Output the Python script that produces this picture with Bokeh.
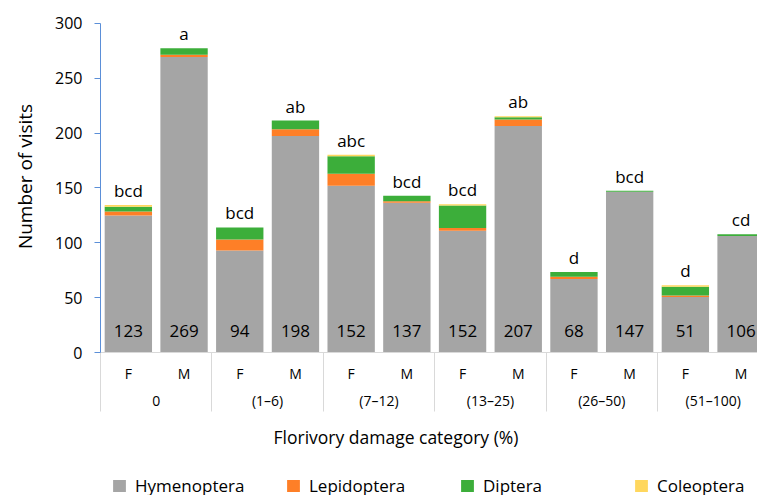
from bokeh.plotting import figure
from bokeh.layouts import column
from bokeh.models import (ColumnDataSource, FixedTicker, LinearAxis, Legend,
                          LegendItem, Title, Range1d)
from bokeh.core.properties import value
from bokeh.embed import file_html
from bokeh.resources import INLINE

# ---- data -------------------------------------------------------------
groups = ["0", "(1–6)", "(7–12)", "(13–25)", "(26–50)", "(51–100)"]
sexes = ["F", "M"]
species = ["Hymenoptera", "Lepidoptera", "Diptera", "Coleoptera"]

hymenoptera = [125, 269.5, 93, 197.5, 152, 136.5, 111, 206.5, 67, 146.5, 50.5, 106.3]
lepidoptera = [3.5, 2, 10, 6, 11, 1.5, 2.5, 6, 2, 0, 1.5, 0]
diptera = [4.5, 6, 11, 8, 16, 5, 20.5, 2, 4.5, 1, 8, 1.5]
coleoptera = [1.5, 0, 0, 0, 1.2, 0, 1.2, 1, 0, 0, 1.3, 0]

bar_counts = [123, 269, 94, 198, 152, 137, 152, 207, 68, 147, 51, 106]
letters = ["bcd", "a", "bcd", "ab", "abc", "bcd", "bcd", "ab", "d", "bcd", "d", "cd"]

colors = ["#a5a5a5", "#fe7f27", "#3cae3a", "#ffd75e"]
FONT = "Open Sans"

# ---- derived ----------------------------------------------------------
n = len(hymenoptera)
xs = list(range(n))
sex_labels = [sexes[i % 2] for i in xs]
totals = [h + l + d + c for h, l, d, c in zip(hymenoptera, lepidoptera, diptera, coleoptera)]
group_pos = [2 * g + 0.5 for g in range(len(groups))]
sep_pos = [2 * g - 0.5 for g in range(len(groups) + 1)]

source = ColumnDataSource(dict(
    x=xs, Hymenoptera=hymenoptera, Lepidoptera=lepidoptera, Diptera=diptera,
    Coleoptera=coleoptera, total=totals, zero=[0] * n,
    count=[str(v) for v in bar_counts], letter=letters,
))

p = figure(width=757, height=459, x_range=Range1d(-0.5, 11.295),
           y_range=Range1d(0, 320.95), output_backend="svg",
           toolbar_location=None, x_axis_location=None,
           min_border_left=100, min_border_right=0, min_border_top=0,
           min_border_bottom=106)
p.outline_line_color = None
p.grid.visible = False

renderers = p.vbar_stack(species, x="x", width=0.85, color=colors,
                         line_color=None, source=source)

# value labels inside bars
p.text(x="x", y="zero", text="count", source=source, text_align="center",
       text_baseline="middle", y_offset=-22, text_font=value(FONT),
       text_font_size="17px", text_color="black")
# significance letters above bars
p.text(x="x", y="total", text="letter", source=source, text_align="center",
       text_baseline="bottom", y_offset=-3, text_font=value(FONT),
       text_font_size="17px", text_color="black")

# y axis
yax = p.yaxis[0]
yax.ticker = FixedTicker(ticks=[0, 50, 100, 150, 200, 250, 300])
yax.bounds = (0, 300)
yax.axis_line_color = "#5b8fd8"
yax.major_tick_line_color = "#5b8fd8"
yax.minor_tick_line_color = None
yax.major_tick_out = 6
yax.major_tick_in = 0
yax.major_label_standoff = 12
yax.major_label_text_font = FONT
yax.major_label_text_font_size = "16px"
yax.major_label_text_color = "black"
yax.axis_label = "Number of visits"
yax.axis_label_text_font = FONT
yax.axis_label_text_font_size = "19px"
yax.axis_label_text_font_style = "normal"
yax.axis_label_text_color = "black"
yax.axis_label_standoff = 14

# x axis: F / M row with group separators (minor ticks)
xax1 = LinearAxis(ticker=FixedTicker(ticks=xs, minor_ticks=sep_pos),
                  major_label_overrides={i: sex_labels[i] for i in xs})
xax1.axis_line_color = "#d9d9d9"
xax1.major_tick_line_color = None
xax1.major_tick_out = 0
xax1.major_tick_in = 0
xax1.minor_tick_line_color = "#d9d9d9"
xax1.minor_tick_out = 59
xax1.minor_tick_in = 0
xax1.major_label_standoff = -48
xax1.major_label_text_font = FONT
xax1.major_label_text_font_size = "14px"
xax1.major_label_text_color = "black"
p.add_layout(xax1, "below")

# x axis: damage category row
xax2 = LinearAxis(ticker=FixedTicker(ticks=group_pos, minor_ticks=[]),
                  major_label_overrides={pos: g for pos, g in zip(group_pos, groups)})
xax2.axis_line_color = None
xax2.major_tick_line_color = None
xax2.minor_tick_line_color = None
xax2.major_tick_out = 0
xax2.major_tick_in = 0
xax2.major_label_standoff = 5
xax2.major_label_text_font = FONT
xax2.major_label_text_font_size = "14px"
xax2.major_label_text_color = "black"
p.add_layout(xax2, "below")

xtitle = Title(text="Florivory damage category (%)", align="left", offset=173,
               text_font=FONT, text_font_size="17.5px", text_font_style="normal",
               text_color="black", standoff=21)
p.add_layout(xtitle, "below")

# ---- legend strip ----------------------------------------------------------
p2 = figure(width=757, height=36, x_range=Range1d(0, 1), y_range=Range1d(0, 1),
            output_backend="svg", toolbar_location=None,
            x_axis_location=None, y_axis_location=None,
            min_border_left=0, min_border_right=0, min_border_top=0,
            min_border_bottom=0)
p2.outline_line_color = None
p2.grid.visible = False
swatches = [p2.vbar(x=0.5, top=0, bottom=0, width=0, fill_color=c, line_color=None)
            for c in colors]
legend = Legend(items=[LegendItem(label=s, renderers=[r]) for s, r in zip(species, swatches)],
                orientation="horizontal", location=(11, -1.5), margin=0, padding=0,
                glyph_width=16, glyph_height=15, label_standoff=8, label_width=115,
                spacing=35, label_text_font=FONT, label_text_font_size="17px",
                label_text_color="black", border_line_color=None,
                background_fill_alpha=0)
p2.add_layout(legend, "center")

layout = column(p, p2, spacing=0)
open("out.html", "w").write(file_html(layout, INLINE))
